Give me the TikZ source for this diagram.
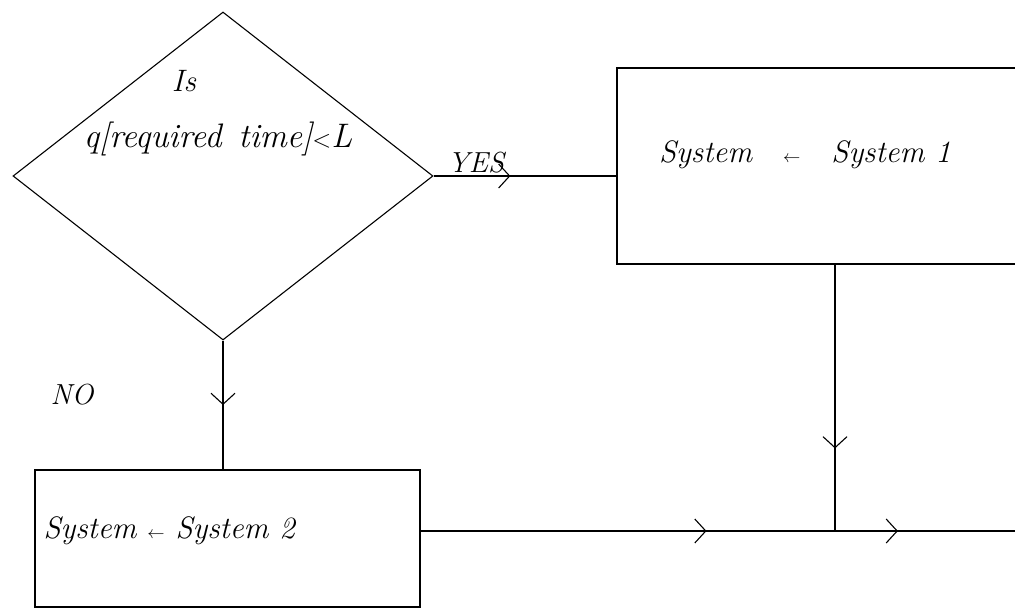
\documentclass[tikz,border=0pt]{standalone}
\usetikzlibrary{shapes.geometric,arrows.meta,decorations.markings,calc}
\begin{document}
\begin{tikzpicture}[x=1pt,y=-1pt,
  line/.style={line width=1.1pt,black},
  hand/.style={font=\fontsize{31}{36}\selectfont\itshape},
  smallhand/.style={font=\fontsize{29}{34}\selectfont\itshape},
  chev/.style={postaction={decorate},decoration={markings,
     mark=at position #1 with {\arrow{Straight Barb[length=11pt,width=24pt,line width=1.1pt]}}}},
  procbox/.style={line,draw,rectangle,inner sep=0pt}
]
\clip (0,0) rectangle (1015,611);
\fill[white] (0,0) rectangle (1015,611);

% decision
\node[line,draw,diamond,minimum width=420pt,minimum height=328pt,inner sep=0pt] (dec) at (223,176) {};
\node[hand,anchor=base] (decA) at (184,91) {Is};
\node[anchor=base,font=\fontsize{34}{38}\selectfont\itshape] (decB) at (218,147) {q[required\enspace time]$<$L};

% process boxes
\node[procbox,minimum width=423pt,minimum height=196pt] (box1) at (828.5,166) {};
\node[hand,anchor=base] (box1txt) at (805,162) {System\quad{\fontsize{16}{18}\selectfont$\leftarrow$}\quad System 1};

\node[procbox,minimum width=385pt,minimum height=137pt] (box2) at (227.5,538.5) {};
\node[hand,anchor=base west] (box2txt) at (40,538) {System {\fontsize{16}{18}\selectfont$\leftarrow$} System 2};

% junction and exit
\coordinate (j) at (835,531);
\coordinate (exit) at (1020,531);

% connectors
\draw[line,chev=0.42] (dec.east) -- (dec.east -| box1.west);
\node[smallhand,anchor=base] (yes) at (476,172) {YES};

\draw[line,chev=0.5] (dec.south) -- (dec.south |- box2.north);
\node[smallhand,anchor=base] (no) at (72,404) {NO};

\draw[line,chev=0.69] (j |- box1.south) -- (j);
\draw[line,chev=0.69] (box2.east |- j) -- (j);
\draw[line,chev=0.34] (j) -- (exit);
\end{tikzpicture}
\end{document}
